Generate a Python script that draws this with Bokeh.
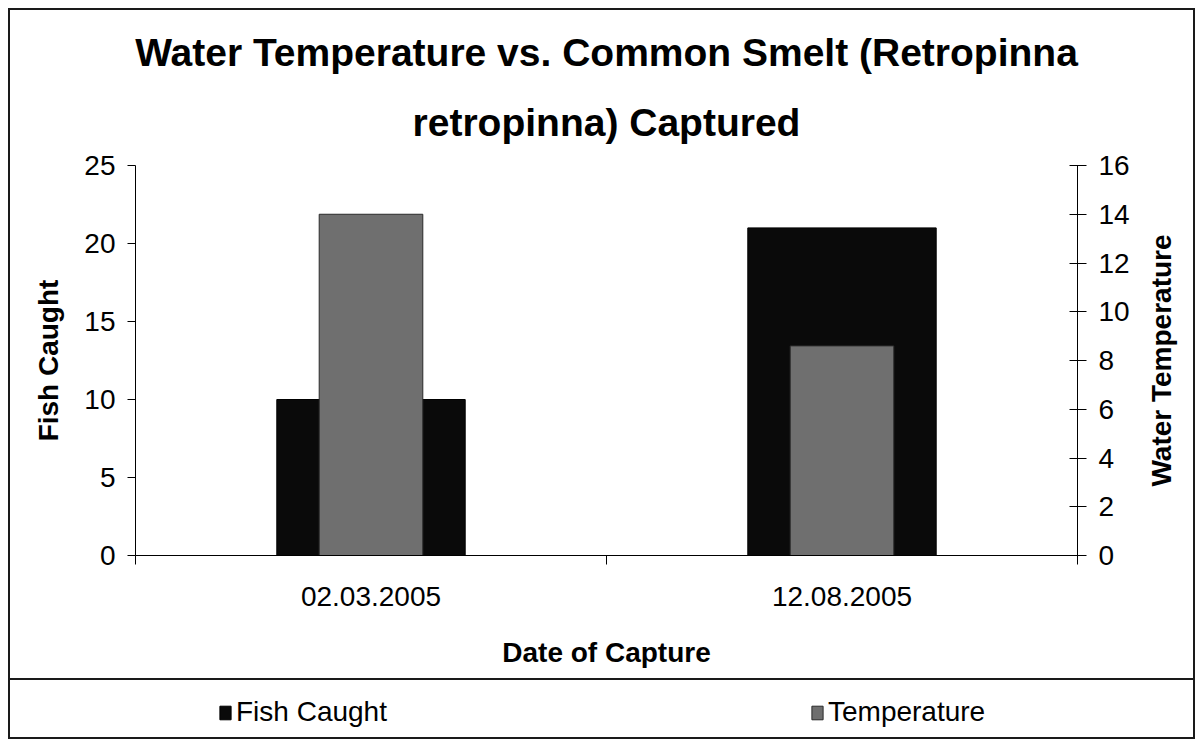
from bokeh.plotting import figure
from bokeh.layouts import column, row
from bokeh.models import (Range1d, LinearAxis, FixedTicker, Legend, LegendItem, Title)
from bokeh.embed import file_html
from bokeh.resources import INLINE

# ---- data ----
dates = ["02.03.2005", "12.08.2005"]
fish_caught = [10, 21]
temperature = [14, 8.6]
fish_ticks = [0, 5, 10, 15, 20, 25]
temp_ticks = [0, 2, 4, 6, 8, 10, 12, 14, 16]
title_lines = ["Water Temperature vs. Common Smelt (Retropinna",
               "retropinna) Captured"]

# category slots on a linear x scale: slot i spans [i, i+1]
centers = [i + 0.5 for i in range(len(dates))]
slot_edges = list(range(len(dates) + 1))

FONT = "Liberation Sans"
FISH_COLOR = "#0a0a0a"
TEMP_COLOR = "#6f6f6f"

p = figure(width=1133, height=668, x_range=Range1d(0, len(dates)),
           y_range=Range1d(0, 25), output_backend="svg", toolbar_location=None,
           x_axis_location=None, y_axis_location=None, title=None,
           min_border_left=125, min_border_right=66,
           min_border_top=155, min_border_bottom=123)
p.extra_y_ranges = {"temp": Range1d(0, 16)}
for g in p.grid:
    g.visible = False
p.outline_line_color = None

def make_title(text, standoff):
    return Title(text=text, align="center", text_font=FONT, text_font_size="39px",
                 text_font_style="bold", text_color="black", standoff=standoff)

p.add_layout(make_title(title_lines[1], 43), "above")
p.add_layout(make_title(title_lines[0], 8), "above")

r_fish = p.vbar(x=centers, top=fish_caught, width=0.4,
                fill_color=FISH_COLOR, line_color="black")
r_temp = p.vbar(x=centers, top=temperature, width=0.22, y_range_name="temp",
                fill_color=TEMP_COLOR, line_color="#2a2a2a", line_width=1)

def style_axis(ax):
    ax.axis_line_color = "black"
    ax.major_tick_line_color = "black"
    ax.minor_tick_line_color = None
    ax.major_label_text_font = FONT
    ax.major_label_text_font_size = "28px"
    ax.major_label_text_color = "black"
    ax.axis_label_text_font = FONT
    ax.axis_label_text_font_size = "28px"
    ax.axis_label_text_font_style = "bold"
    ax.axis_label_text_color = "black"

yl = LinearAxis(ticker=FixedTicker(ticks=fish_ticks), axis_label="Fish Caught")
style_axis(yl)
yl.major_tick_in = 0
yl.major_tick_out = 8
yl.major_label_standoff = 12
yl.axis_label_standoff = 17
p.add_layout(yl, "left")

yr = LinearAxis(y_range_name="temp", ticker=FixedTicker(ticks=temp_ticks))
style_axis(yr)
yr.major_tick_in = 8
yr.major_tick_out = 9
yr.major_label_standoff = 12
p.add_layout(yr, "right")

xt = LinearAxis(ticker=FixedTicker(ticks=slot_edges))
style_axis(xt)
xt.major_tick_in = 0
xt.major_tick_out = 9
xt.major_label_text_font_size = "0px"
xt.major_label_standoff = 0
p.add_layout(xt, "below")

xc = LinearAxis(ticker=FixedTicker(ticks=centers), axis_label="Date of Capture",
                major_label_overrides={c: d for c, d in zip(centers, dates)})
style_axis(xc)
xc.axis_line_color = None
xc.major_tick_line_color = None
xc.major_label_standoff = 16
xc.axis_label_standoff = 28
p.add_layout(xc, "below")

# ---- right-hand axis title (reads bottom-to-top, like the original) ----
side = figure(width=50, height=668, x_range=Range1d(0, 1), y_range=Range1d(0, 16),
              output_backend="svg", toolbar_location=None, title=None,
              x_axis_location=None, y_axis_location=None,
              min_border_left=28, min_border_right=0,
              min_border_top=155, min_border_bottom=123)
for g in side.grid:
    g.visible = False
side.outline_line_color = None
side.add_layout(Title(text="Water Temperature", align="center", text_font=FONT,
                      text_font_size="28px", text_font_style="bold",
                      text_color="black", standoff=0), "left")

# ---- legend strip (boxed) ----
lg = figure(width=1183, height=59, x_range=Range1d(0, len(dates)),
            y_range=Range1d(0, 25), output_backend="svg", toolbar_location=None,
            x_axis_location=None, y_axis_location=None, title=None,
            min_border_left=1, min_border_right=0, min_border_top=0,
            min_border_bottom=1, styles={"border-top": "2px solid #1a1a1a"})
for g in lg.grid:
    g.visible = False
lg.outline_line_color = None

lf = lg.vbar(x=centers, top=fish_caught, width=0.4, fill_color=FISH_COLOR,
             line_color="black", visible=False)
lt = lg.vbar(x=centers, top=temperature, width=0.22, fill_color=TEMP_COLOR,
             line_color="#2a2a2a", visible=False)

legend = Legend(items=[LegendItem(label="Fish Caught", renderers=[lf]),
                       LegendItem(label="Temperature", renderers=[lt])],
                orientation="horizontal", location=(207, 10),
                border_line_color=None, background_fill_alpha=0,
                padding=0, margin=0, spacing=154, label_width=420,
                glyph_width=14, glyph_height=17, label_standoff=4,
                label_text_font=FONT, label_text_font_size="28px",
                label_text_color="black", click_policy="none",
                inactive_fill_alpha=0)
lg.add_layout(legend)

layout = column(row(p, side, spacing=0), lg, spacing=0, margin=(8, 0, 0, 8),
                styles={"border": "2px solid #1a1a1a"})

open("out.html", "w").write(file_html(layout, INLINE))
